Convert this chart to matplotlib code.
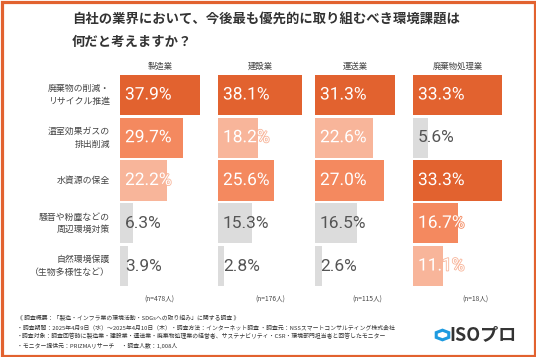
import matplotlib
matplotlib.use("Agg")
import matplotlib.pyplot as plt
import matplotlib.patheffects as pe
from matplotlib import font_manager
from matplotlib.patches import Rectangle, RegularPolygon

plt.rcParams['font.family'] = ['Noto Sans CJK JP', 'DejaVu Sans']

# data
industries = ['製造業', '建設業', '運送業', '廃棄物処理業']
sample_n = ['(n=478人)', '(n=176人)', '(n=115人)', '(n=18人)']
issues = ['廃棄物の削減・\nリサイクル推進', '温室効果ガスの\n排出削減', '水資源の保全',
          '騒音や粉塵などの\n周辺環境対策', '自然環境保護\n（生物多様性など）']
v_manufacturing = [37.9, 29.7, 22.2, 6.3, 3.9]
v_construction = [38.1, 18.2, 25.6, 15.3, 2.8]
v_transport = [31.3, 22.6, 27.0, 16.5, 2.6]
v_waste = [33.3, 5.6, 33.3, 16.7, 11.1]
all_values = [v_manufacturing, v_construction, v_transport, v_waste]

title = '自社の業界において、今後最も優先的に取り組むべき環境課題は\n何だと考えますか？'
notes = [
    '《 調査概要：「製造・インフラ業の環境活動・SDGsへの取り組み」に関する調査 》',
    '・調査期間：2025年4月9日（水）～2025年4月10日（木）・調査方法：インターネット調査 ・調査元：NSSスマートコンサルティング株式会社',
    '・調査対象：調査回答時に製造業・建設業・運送業・廃棄物処理業の経営者、サステナビリティ・CSR・環境部門担当者と回答したモニター',
    '・モニター提供元：PRIZMAリサーチ　 ・調査人数：1,008人',
]

ORANGE = '#E2622F'
MID = '#F4895F'
LIGHT = '#F8B59A'
GREY = '#DCDCDC'

names = {f.name for f in font_manager.fontManager.ttflist}
num_font = 'Liberation Sans Narrow' if 'Liberation Sans Narrow' in names else 'Roboto'
num_size = 14 if num_font == 'Liberation Sans Narrow' else 12.5

W, H = 536, 357
fig = plt.figure(figsize=(W / 100, H / 100), dpi=100)
fig.patch.set_facecolor('white')


def fx(px):
    return px / W


def fy(py):
    return 1 - py / H


# panel geometry in pixels
starts = [120, 218, 315, 413]
widths = [80, 84, 80, 89]
n_x = [159, 270, 367, 475]
top, bottom = 73.6, 287.4


def bar_colors(vals):
    order = sorted(set(vals), reverse=True)
    palette = [ORANGE, MID, LIGHT]
    cols = []
    for v in vals:
        r = order.index(v)
        cols.append(palette[r] if r < 3 else GREY)
    return cols


for k, vals in enumerate(all_values):
    ax = fig.add_axes([fx(starts[k]), fy(bottom), fx(widths[k]), (bottom - top) / H])
    cols = bar_colors(vals)
    ax.barh(range(len(vals)), vals, height=40 / 42.75, color=cols)
    ax.set_xlim(0, max(vals))
    ax.set_ylim(len(vals) - 0.5, -0.5)
    ax.axis('off')
    for i, v in enumerate(vals):
        if cols[i] == GREY:
            ax.text(max(vals) * 5 / widths[k], i, f'{v:.1f}%', va='center', ha='left',
                    color='#555555', fontsize=num_size, family=num_font)
        else:
            ax.text(max(vals) * 5 / widths[k], i, f'{v:.1f}%', va='center', ha='left',
                    color='white', fontsize=num_size, family=num_font,
                    path_effects=[pe.withStroke(linewidth=1.2, foreground=cols[i])])
    fig.text(fx(starts[k] + widths[k] / 2), fy(66), industries[k], ha='center', va='center',
             fontsize=6, color='#444444')
    fig.text(fx(n_x[k]), fy(300), sample_n[k], ha='center', va='center',
             fontsize=4.8, color='#444444')

row_y = [95, 137.75, 180.5, 223.25, 266]
for lab, y in zip(issues, row_y):
    fig.text(fx(110), fy(y), lab, ha='right', va='center', fontsize=6.4,
             multialignment='right', color='#444444', linespacing=1.55)

fig.text(fx(72), fy(30.5), title, ha='left', va='center', fontsize=9.6,
         fontweight='bold', color='#333333', linespacing=1.75)

for i, line in enumerate(notes):
    fig.text(fx(17), fy(318 + i * 9.3), line, ha='left', va='center',
             fontsize=4.2, color='#333333')

# logo
fig.patches.append(RegularPolygon((fx(442.5), fy(335)), numVertices=6, radius=0.0135,
                                  orientation=0, transform=fig.transFigure,
                                  facecolor='none', edgecolor='#1E9BE0', linewidth=2.2))
fig.text(fx(449), fy(335), 'ISOプロ', ha='left', va='center', fontsize=13,
         fontweight='bold', color='#333333')

# frame
fig.patches.append(Rectangle((fx(1.5), fy(355.5)), fx(533), 353.5 / H, transform=fig.transFigure,
                             facecolor='none', edgecolor=ORANGE, linewidth=2.3))

fig.savefig('out.png', dpi=100, facecolor='white')
